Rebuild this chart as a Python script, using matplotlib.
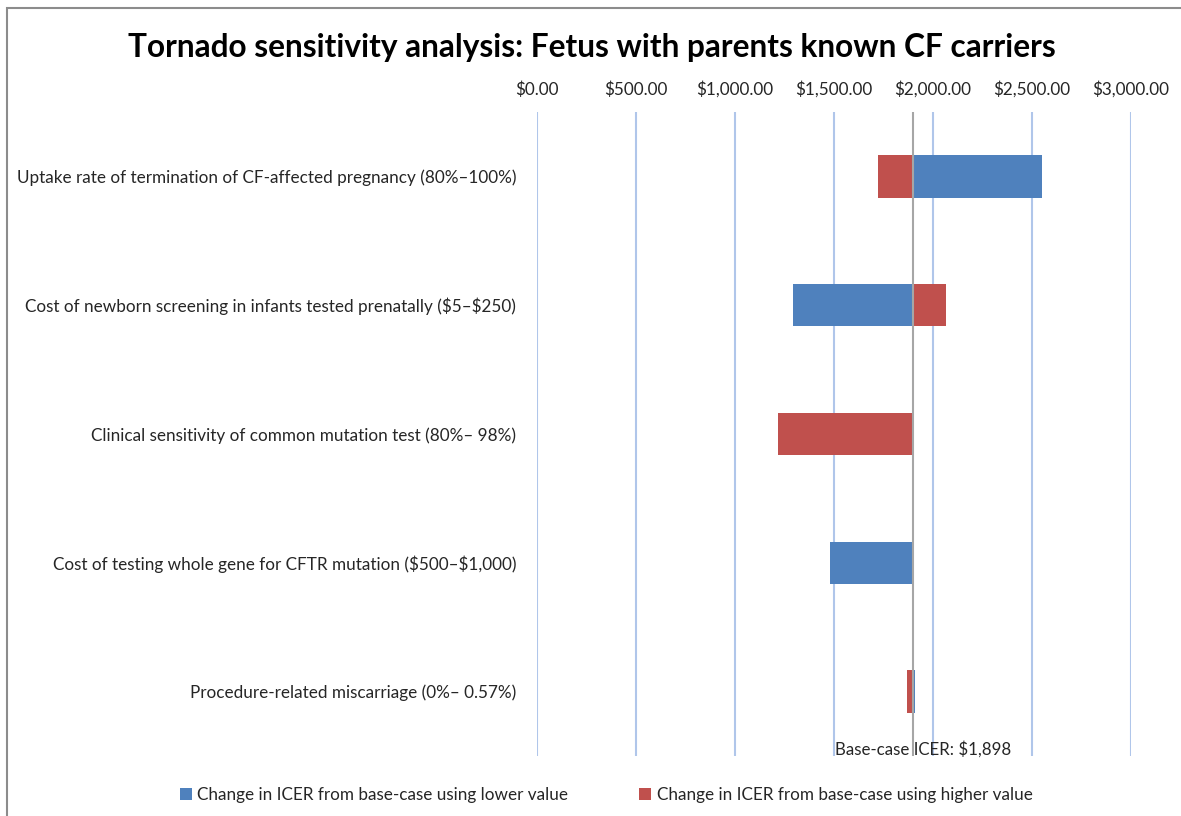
import matplotlib.pyplot as plt
from matplotlib.patches import Rectangle
from matplotlib.ticker import FuncFormatter

plt.rcParams['font.family'] = ['Lato', 'DejaVu Sans']

categories = [
    "Uptake rate of termination of CF-affected pregnancy (80%\u2013100%)",
    "Cost of newborn screening in infants tested prenatally ($5\u2013$250)",
    "Clinical sensitivity of common mutation test (80%\u2013 98%)",
    "Cost of testing whole gene for CFTR mutation ($500\u2013$1,000)",
    "Procedure-related miscarriage (0%\u2013 0.57%)",
]
base_icer = 1898
# ICER when the parameter takes its lower / higher value
icer_lower = [2552, 1295, 1898, 1482, 1911]
icer_higher = [1721, 2065, 1219, 1898, 1868]
x_ticks = [0, 500, 1000, 1500, 2000, 2500, 3000]

blue = "#4f81bd"
red = "#c0504d"
grid_blue = "#b0c6ea"
txt = "#262626"

fig = plt.figure(figsize=(11.81, 8.16), dpi=100)
W, H = 1181, 816
ax = fig.add_axes([537 / W, 1 - 756 / H, (1131 - 537) / W, (756 - 112) / H])

ypos = list(range(len(categories)))
ax.barh(ypos, [v - base_icer for v in icer_lower], left=base_icer, height=0.33,
        color=blue, label="Change in ICER from base-case using lower value", zorder=3)
ax.barh(ypos, [v - base_icer for v in icer_higher], left=base_icer, height=0.33,
        color=red, label="Change in ICER from base-case using higher value", zorder=3)

ax.set_xlim(0, 3000)
ax.set_ylim(len(categories) - 0.5, -0.5)
ax.set_xticks(x_ticks)
ax.xaxis.set_major_formatter(FuncFormatter(lambda v, p: f"\\${v:,.2f}"))
ax.xaxis.tick_top()
ax.set_yticks(ypos)
ax.set_yticklabels([c.replace("$", r"\$") for c in categories])
ax.tick_params(axis="both", length=0, labelsize=12.3, colors=txt)
ax.tick_params(axis="y", pad=15)
ax.tick_params(axis="x", pad=10)
ax.grid(axis="x", color=grid_blue, linewidth=1.5, zorder=0)
for s in ax.spines.values():
    s.set_visible(False)

ax.axvline(base_icer, color="#a6a6a6", linewidth=1.5, zorder=4, ymin=-0.005, ymax=1)
# label sits a bit to the right of the base line, like in the original
ax.text(base_icer + 52, len(categories) - 0.5 - 0.05, f"Base-case ICER: \\${base_icer:,}",
        ha="center", va="center", fontsize=12.2, color=txt, zorder=5)

fig.text(592 / W, 1 - 47 / H, "Tornado sensitivity analysis: Fetus with parents known CF carriers",
         ha="center", va="center", fontsize=22.8, fontweight="bold", color="black")

leg = fig.legend(loc="center", bbox_to_anchor=(606 / W, 1 - 795 / H), ncol=2, frameon=False,
                 fontsize=12.3, handlelength=0.7, handleheight=0.7, handletextpad=0.3,
                 columnspacing=4.2)
for t in leg.get_texts():
    t.set_color(txt)

fig.patches.append(Rectangle((7 / W, -0.05), 1.2, 1 - 8 / H + 0.05, transform=fig.transFigure,
                             fill=False, edgecolor="#8c8c8c", linewidth=1.5))

fig.savefig("out.png", dpi=100)
